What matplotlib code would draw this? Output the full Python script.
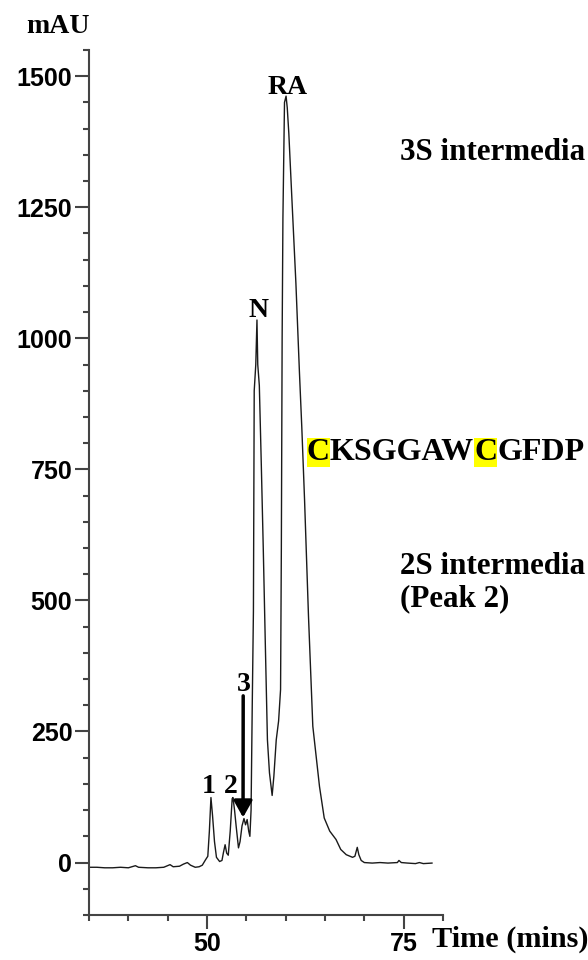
#!/usr/bin/env python3
"""
HPLC trace of the folding mixture: peaks 1-3, N and RA.
"""

import matplotlib
matplotlib.use('Agg')
import matplotlib.pyplot as plt
from matplotlib.ticker import MultipleLocator

# Trace (time in mins, absorbance in mAU)
time_min = [35.0, 36.0, 37.0, 38.0, 39.0, 40.0, 40.9, 41.3, 42.5, 43.5, 44.5, 45.3,
            45.7, 46.5, 47.0, 47.5, 47.9, 48.5, 49.0, 49.4, 49.8, 50.1, 50.3, 50.5,
            50.7, 50.95, 51.2, 51.6, 51.9, 52.1, 52.3, 52.5, 52.7, 52.95, 53.2, 53.3,
            53.5, 53.7, 54.0, 54.2, 54.45, 54.7, 54.9, 55.1, 55.3, 55.45, 55.6, 55.75,
            55.9, 56.0, 56.2, 56.35, 56.45, 56.65, 56.9, 57.15, 57.4, 57.68, 57.94, 58.28,
            58.5, 58.8, 59.1, 59.35, 59.45, 59.55, 59.65, 59.85, 60.05, 60.2, 60.4, 60.8,
            61.3, 61.75, 62.05, 62.4, 62.9, 63.45, 64.3, 64.9, 65.6, 66.4, 67.0, 67.7,
            68.5, 68.8, 69.1, 69.3, 69.6, 70.0, 71.0, 72.0, 73.0, 74.2, 74.4, 74.7,
            75.5, 76.5, 77.0, 77.5, 78.6]
mau = [-9, -9, -10, -10, -9, -10, -6, -9, -10, -10, -9, -4,
       -8, -7, -3, 0, -5, -9, -8, -5, 5, 12, 60, 124,
       90, 40, 10, 2, 4, 20, 34, 18, 14, 60, 122, 124,
       100, 70, 28, 40, 70, 84, 72, 82, 60, 50, 100, 300,
       480, 900, 950, 1035, 950, 910, 760, 600, 425, 234, 171, 128,
       165, 234, 270, 330, 600, 1000, 1230, 1450, 1462, 1440, 1391, 1263,
       1105, 935, 830, 692, 470, 260, 145, 85, 60, 44, 25, 15,
       10, 12, 29, 15, 4, 0, -1, 0, -1, 0, 4, 0,
       -1, -2, 0, -2, -1]

# Peak labels: (text, time, mAU at baseline of text)
peak_labels = [('RA', 60.26, 1467), ('N', 56.54, 1040),
               ('1', 50.17, 133), ('2', 52.97, 133), ('3', 54.69, 328)]

# Arrow from label 3 down onto peak 3
arrow_tail = (54.60, 318)
arrow_tip = (54.58, 86)

sequence_parts = ['C', 'KSGGAW', 'C', 'GFDP']
highlighted = [True, False, True, False]

serif = ['Liberation Serif', 'DejaVu Serif']
plt.rcParams['font.family'] = ['Liberation Sans', 'DejaVu Sans']

fig = plt.figure(figsize=(5.88, 9.6), dpi=100)
ax = fig.add_axes([0.1514, 0.0469, 0.602, 0.901])

ax.plot(time_min, mau, color='#1a1a1a', lw=1.0)

ax.set_xlim(35, 80)
ax.set_ylim(-100, 1550)

ax.set_xticks([50, 75])
ax.xaxis.set_minor_locator(MultipleLocator(5))
ax.set_yticks([0, 250, 500, 750, 1000, 1250, 1500])
ax.yaxis.set_minor_locator(MultipleLocator(50))

for s in ['top', 'right']:
    ax.spines[s].set_visible(False)
for s in ['left', 'bottom']:
    ax.spines[s].set_color('#444444')
    ax.spines[s].set_linewidth(1.5)

ax.tick_params(which='major', length=10, width=1.5, color='#444444',
               labelsize=18, pad=2)
ax.tick_params(which='minor', length=4.5, width=1.5, color='#444444')
for lab in ax.get_xticklabels() + ax.get_yticklabels():
    lab.set_fontweight('bold')

# Peak annotations
for txt, t, y in peak_labels:
    ax.text(t, y, txt, ha='center', va='baseline', fontsize=20,
            fontweight='bold', family=serif)

ax.annotate('', xy=arrow_tip, xytext=arrow_tail,
            arrowprops=dict(arrowstyle='-|>,head_length=0.5,head_width=0.28',
                            mutation_scale=20, lw=2.5, color='black',
                            shrinkA=0, shrinkB=0))

# Axis titles
fig.text(58 / 588, 1 - 33 / 960, 'mAU', ha='center', va='baseline',
         fontsize=20, fontweight='bold', family=serif)
fig.text(432 / 588, 1 - 947 / 960, 'Time (mins)', ha='left', va='baseline',
         fontsize=21.8, fontweight='bold', family=serif)

# Side notes (cut at the right edge in the source figure)
fig.text(400 / 588, 1 - 160 / 960, '3S intermedia', ha='left', va='baseline',
         fontsize=22.3, fontweight='bold', family=serif)
fig.text(400 / 588, 1 - 574 / 960, '2S intermedia', ha='left', va='baseline',
         fontsize=22.3, fontweight='bold', family=serif)
fig.text(400 / 588, 1 - 606 / 960, '(Peak 2)', ha='left', va='baseline',
         fontsize=22.3, fontweight='bold', family=serif)

# Sequence with the two cysteines highlighted
prev = None
for part, hl in zip(sequence_parts, highlighted):
    box = dict(boxstyle='square,pad=0.0', fc='yellow', ec='none') if hl else None
    if prev is None:
        prev = fig.text(307 / 588, 1 - 460 / 960, part, ha='left', va='baseline',
                        fontsize=23, fontweight='bold', family=serif, bbox=box)
    else:
        prev = ax.annotate(part, xy=(1, 0), xycoords=prev, ha='left', va='bottom',
                           fontsize=23, fontweight='bold', family=serif, bbox=box,
                           annotation_clip=False)

plt.savefig('out.png', dpi=100)
